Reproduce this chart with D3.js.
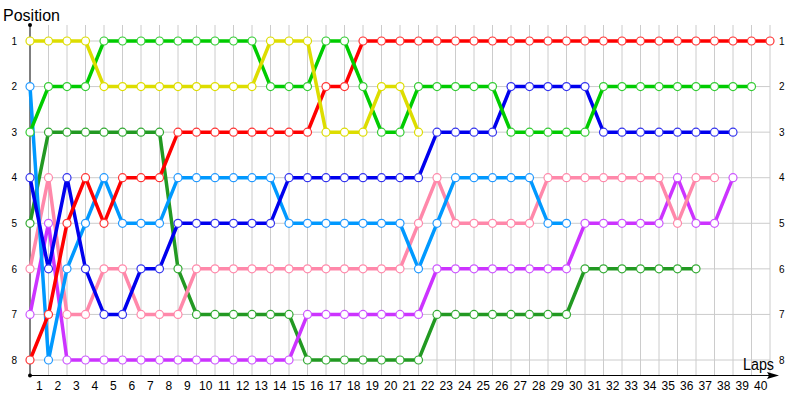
<!DOCTYPE html>
<html><head><meta charset="utf-8">
<script src="https://cdn.jsdelivr.net/npm/d3@7"></script>
<style>body{margin:0;background:#fff}svg{display:block}</style>
</head><body><svg id="c" width="800" height="400"></svg>
<script>
const lapLabels = d3.range(1, 41);
const positions = [1,2,3,4,5,6,7,8];
const red    = [8,7,5,4,5,4,4,4,3,3,3,3,3,3,3,3,2,2,1,1,1,1,1,1,1,1,1,1,1,1,1,1,1,1,1,1,1,1,1,1,1];
const green  = [3,2,2,2,1,1,1,1,1,1,1,1,1,2,2,2,1,1,2,3,3,2,2,2,2,2,3,3,3,3,3,2,2,2,2,2,2,2,2,2];
const yellow = [1,1,1,1,2,2,2,2,2,2,2,2,2,1,1,1,3,3,3,2,2,3];
const dgreen = [5,3,3,3,3,3,3,3,6,7,7,7,7,7,7,8,8,8,8,8,8,8,7,7,7,7,7,7,7,7,6,6,6,6,6,6,6];
const blue   = [4,6,4,6,7,7,6,6,5,5,5,5,5,5,4,4,4,4,4,4,4,4,3,3,3,3,2,2,2,2,2,3,3,3,3,3,3,3,3];
const lblue  = [2,8,6,5,4,5,5,5,4,4,4,4,4,4,5,5,5,5,5,5,5,6,5,4,4,4,4,4,5,5];
const pink   = [6,4,7,7,6,6,7,7,7,6,6,6,6,6,6,6,6,6,6,6,6,5,4,5,5,5,5,5,4,4,4,4,4,4,4,5,4,4];
const purple = [7,5,8,8,8,8,8,8,8,8,8,8,8,8,8,7,7,7,7,7,7,7,6,6,6,6,6,6,6,6,5,5,5,5,5,4,5,5,4];

const series = [
  {values: dgreen, line: "#229922", dot: "#33aa33"},
  {values: purple, line: "#cc33ff", dot: "#cc55ff"},
  {values: pink,   line: "#ff88aa", dot: "#ff88aa"},
  {values: lblue,  line: "#0099ff", dot: "#2299ff"},
  {values: blue,   line: "#0000ee", dot: "#3333ee"},
  {values: red,    line: "#ff0000", dot: "#ff3333"},
  {values: green,  line: "#00cc00", dot: "#33cc33"},
  {values: yellow, line: "#dddd00", dot: "#dddd00"}
];

const svg = d3.select("#c");
const x = d3.scaleLinear().domain([0, 40]).range([30, 770]);
const y = d3.scaleLinear().domain([1, 8]).range([41, 360]);
const xb = d3.scaleBand().domain(lapLabels).range([30, 770]);

// grid
const g = svg.append("g");
g.selectAll("line.v").data(d3.range(1, 41)).join("line")
  .attr("x1", d => x(d)).attr("x2", d => x(d)).attr("y1", 25).attr("y2", 375)
  .attr("stroke", "#cccccc").attr("stroke-width", 1);
g.selectAll("line.h").data(positions).join("line").attr("class","h")
  .attr("x1", 30).attr("x2", 770).attr("y1", d => y(d)).attr("y2", d => y(d))
  .attr("stroke", "#cccccc").attr("stroke-width", 1);

// axes labels
const font = "'Liberation Sans', Arial, sans-serif";
const ax = svg.append("g").attr("transform", "translate(0,375)")
  .call(d3.axisBottom(xb).tickSize(0).tickPadding(6));
ax.select(".domain").remove();
ax.selectAll("text").attr("font-size", 12).attr("font-family", font).attr("fill", "#000");

const al = svg.append("g").attr("transform", "translate(30,0)")
  .call(d3.axisLeft(y).tickValues(positions).tickSize(0).tickPadding(13).tickFormat(d3.format("d")));
al.select(".domain").remove();
al.selectAll("text").attr("font-size", 10).attr("font-family", font).attr("fill", "#000");

const ar = svg.append("g").attr("transform", "translate(770,0)")
  .call(d3.axisRight(y).tickValues(positions).tickSize(0).tickPadding(9).tickFormat(d3.format("d")));
ar.select(".domain").remove();
ar.selectAll("text").attr("font-size", 10).attr("font-family", font).attr("fill", "#000");

// axis lines
svg.append("line").attr("x1", 30).attr("x2", 30).attr("y1", 25).attr("y2", 375).attr("stroke", "#000");
svg.append("line").attr("x1", 30).attr("x2", 772).attr("y1", 375.5).attr("y2", 375.5).attr("stroke", "#000");
svg.append("path").attr("d", "M767,372 L779,375.5 L767,379 L769,375.5 Z").attr("fill", "#000");
svg.append("circle").attr("cx", 30).attr("cy", 25).attr("r", 2).attr("fill", "#000");
svg.append("circle").attr("cx", 30).attr("cy", 375.5).attr("r", 2).attr("fill", "#000");

svg.append("text").attr("x", 3).attr("y", 21).attr("font-size", 16).attr("font-family", font).text("Position");
svg.append("text").attr("x", 743).attr("y", 370).attr("font-size", 16).attr("font-family", font)
  .attr("textLength", 31).attr("lengthAdjust", "spacingAndGlyphs").text("Laps");

// series
const line = d3.line().x((d, i) => x(i)).y(d => y(d));
series.forEach(s => {
  const sg = svg.append("g");
  sg.append("path").attr("d", line(s.values)).attr("fill", "none")
    .attr("stroke", s.line).attr("stroke-width", 3.5).attr("stroke-linejoin", "miter");
  sg.selectAll("circle").data(s.values).join("circle")
    .attr("cx", (d, i) => x(i)).attr("cy", d => y(d)).attr("r", 4)
    .attr("fill", "#fff").attr("stroke", s.dot).attr("stroke-width", 1.2);
});
</script></body></html>
